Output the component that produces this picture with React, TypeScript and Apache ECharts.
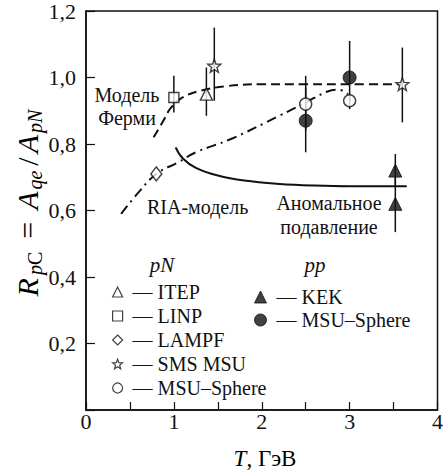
import React, { useEffect, useRef } from "react";
import * as echarts from "echarts";

// [T, R, errLow, errHigh]
const itep = [[1.37, 0.95, 0.885, 1.03]];
const linp = [[1.0, 0.94, 0.895, 1.005]];
const lampf = [[0.8, 0.71]];
const smsMsu = [
  [1.46, 1.035, 0.93, 1.15],
  [3.6, 0.98, 0.865, 1.09],
];
const msuSpherePN = [
  [2.5, 0.92, 0.84, 1.005],
  [3.0, 0.93, 0.905, 0.95],
];
const kek = [
  [3.52, 0.72, 0.675, 0.77],
  [3.52, 0.62, 0.535, 0.7],
];
const msuSpherePP = [
  [2.5, 0.87, 0.775, 0.97],
  [3.0, 1.0, 0.93, 1.11],
];

// model curves [T, R]
const fermiModel = [
  [0.77, 0.82], [0.88, 0.87], [0.97, 0.91], [1.1, 0.94], [1.3, 0.96],
  [1.6, 0.974], [2.0, 0.98], [2.5, 0.98], [3.0, 0.98], [3.6, 0.98],
];
const riaModel = [
  [0.4, 0.59], [0.6, 0.655], [0.8, 0.71], [1.05, 0.745], [1.25, 0.775],
  [1.65, 0.815], [2.2, 0.885], [2.5, 0.925], [2.75, 0.958], [2.88, 0.963], [2.98, 0.95],
];
const anomalous = [
  [1.02, 0.79], [1.1, 0.757], [1.25, 0.728], [1.5, 0.705], [1.8, 0.69],
  [2.2, 0.68], [2.6, 0.675], [3.0, 0.673], [3.65, 0.673],
];

const xTicks = [0, 1, 2, 3, 4];
const yTickLabels = ["0,2", "0,4", "0,6", "0,8", "1,0", "1,2"];

const legendNames: Record<string, string> = {
  ITEP: "ITEP",
  LINP: "LINP",
  LAMPF: "LAMPF",
  "SMS MSU": "SMS MSU",
  "MSU–Sphere pN": "MSU–Sphere",
  KEK: "KEK",
  "MSU–Sphere pp": "MSU–Sphere",
};

const FONT = "Liberation Serif";
const INK = "#111";
const STAR =
  "path://M12,1 L14.8,8.6 L23,8.9 L16.6,14 L18.8,22 L12,17.4 L5.2,22 L7.4,14 L1,8.9 L9.2,8.6 Z";

export default function App() {
  const ref = useRef<HTMLDivElement>(null);
  useEffect(() => {
    if (!ref.current) return;
    const chart = echarts.init(ref.current, undefined, { renderer: "svg" });

    const open = { color: "#fff", borderColor: INK, borderWidth: 1.4 };
    const filled = { color: INK, borderColor: INK, borderWidth: 1 };
    const pts = (a: number[][]) => a.map((d) => [d[0], d[1]]);
    const errs = [itep, linp, smsMsu, msuSpherePN, kek, msuSpherePP]
      .flat()
      .filter((d) => d.length === 4)
      .map((d) => [d[0], d[2], d[3]]);

    const main = (pad: number[], italic = true) => ({
      fontFamily: FONT,
      fontSize: 30,
      fontStyle: italic ? "italic" : "normal",
      color: INK,
      lineHeight: 36,
      padding: pad,
    });
    const sub = (pad: number[], italic = true) => ({
      fontFamily: FONT,
      fontSize: 20,
      fontStyle: italic ? "italic" : "normal",
      color: INK,
      lineHeight: 20,
      verticalAlign: "bottom",
      padding: pad,
    });

    chart.setOption({
      animation: false,
      textStyle: { fontFamily: FONT },
      grid: {
        left: 86,
        right: 3,
        top: 10,
        bottom: 61,
        show: true,
        borderColor: INK,
        borderWidth: 1.5,
      },
      xAxis: {
        type: "value",
        min: 0,
        max: 4,
        interval: 0.5,
        axisLine: { lineStyle: { color: INK, width: 1.5 } },
        axisTick: { inside: true, length: 8, lineStyle: { color: INK, width: 1.2 } },
        splitLine: { show: false },
        axisLabel: {
          margin: 0,
          fontFamily: FONT,
          fontSize: 22,
          color: INK,
          formatter: (v: number) => {
            const r = Math.round(v);
            return Math.abs(v - r) < 1e-6 && xTicks.includes(r) ? String(r) : "";
          },
        },
      },
      yAxis: {
        type: "value",
        min: 0,
        max: 1.2,
        interval: 0.2,
        axisLine: { lineStyle: { color: INK, width: 1.5 } },
        axisTick: { inside: true, length: 9, lineStyle: { color: INK, width: 1.2 } },
        splitLine: { show: false },
        axisLabel: {
          margin: 10,
          fontFamily: FONT,
          fontSize: 22,
          color: INK,
          formatter: (v: number) => {
            const i = Math.round(v / 0.2) - 1;
            return i >= 0 ? yTickLabels[i] : "";
          },
        },
      },
      legend: [
        {
          orient: "vertical",
          left: 112,
          top: 282,
          padding: 0,
          itemGap: 4,
          itemWidth: 10,
          itemHeight: 10,
          selectedMode: false,
          itemStyle: { borderWidth: 1.2 },
          data: ["ITEP", "LINP", "LAMPF", "SMS MSU", "MSU–Sphere pN"],
          formatter: (n: string) => " — " + legendNames[n],
          textStyle: { fontFamily: FONT, fontSize: 20, color: INK, lineHeight: 20 },
        },
        {
          orient: "vertical",
          left: 254,
          top: 287,
          padding: 0,
          itemGap: 3,
          itemWidth: 12,
          itemHeight: 12,
          selectedMode: false,
          itemStyle: { borderWidth: 1 },
          data: ["KEK", "MSU–Sphere pp"],
          formatter: (n: string) => " — " + legendNames[n],
          textStyle: { fontFamily: FONT, fontSize: 20, color: INK, lineHeight: 20 },
        },
      ],
      graphic: [
        {
          type: "text",
          x: 127,
          y: 106,
          style: {
            text: "Модель\nФерми",
            align: "center",
            verticalAlign: "middle",
            fontFamily: FONT,
            fontSize: 20,
            lineHeight: 23,
            fill: INK,
          },
        },
        {
          type: "text",
          x: 147,
          y: 207,
          style: {
            text: "RIA-модель",
            align: "left",
            verticalAlign: "middle",
            fontFamily: FONT,
            fontSize: 20,
            fill: INK,
          },
        },
        {
          type: "text",
          x: 329,
          y: 215,
          style: {
            text: "Аномальное\nподавление",
            align: "center",
            verticalAlign: "middle",
            fontFamily: FONT,
            fontSize: 20,
            lineHeight: 24,
            fill: INK,
          },
        },
        {
          type: "text",
          x: 162,
          y: 265,
          style: {
            text: "pN",
            align: "center",
            verticalAlign: "middle",
            fontFamily: FONT,
            fontStyle: "italic",
            fontSize: 21,
            fill: INK,
          },
        },
        {
          type: "text",
          x: 315,
          y: 265,
          style: {
            text: "pp",
            align: "center",
            verticalAlign: "middle",
            fontFamily: FONT,
            fontStyle: "italic",
            fontSize: 21,
            fill: INK,
          },
        },
        {
          type: "text",
          x: 265,
          y: 458,
          style: {
            text: "{i|T}{n|, ГэВ}",
            align: "center",
            verticalAlign: "middle",
            rich: {
              i: { fontFamily: FONT, fontStyle: "italic", fontSize: 23, color: INK },
              n: { fontFamily: FONT, fontSize: 23, color: INK },
            },
          },
        },
        {
          type: "text",
          x: 27,
          y: 204,
          rotation: Math.PI / 2,
          style: {
            text: "{r|R}{s1|p}{s2|C}{eq|=}{a|A}{s3|qe}{sl|/}{a|A}{s4|pN}",
            align: "center",
            verticalAlign: "middle",
            rich: {
              r: main([0, 3, 0, 2]),
              a: main([0, 2, 0, 1]),
              eq: main([0, 11, 0, 11], false),
              sl: main([0, 3, 0, 3], false),
              s1: sub([0, 0, 0, 0]),
              s2: sub([0, 2, 0, 0], false),
              s3: sub([0, 2, 0, 0]),
              s4: sub([0, 0, 0, 0]),
            },
          },
        },
      ],
      series: [
        {
          name: "Fermi",
          type: "line",
          data: fermiModel,
          showSymbol: false,
          symbol: "none",
          smooth: 0.4,
          lineStyle: { color: INK, width: 2, type: [9, 5] },
          z: 1,
        },
        {
          name: "RIA",
          type: "line",
          data: riaModel,
          showSymbol: false,
          symbol: "none",
          smooth: 0.4,
          lineStyle: { color: INK, width: 2, type: [10, 5, 2, 5] },
          z: 1,
        },
        {
          name: "Anomalous",
          type: "line",
          data: anomalous,
          showSymbol: false,
          symbol: "none",
          smooth: 0.4,
          lineStyle: { color: INK, width: 2 },
          z: 1,
        },
        {
          name: "errors",
          type: "custom",
          data: errs,
          encode: { x: 0, y: [1, 2] },
          z: 2,
          renderItem: (params: any, api: any) => {
            const a = api.coord([api.value(0), api.value(1)]);
            const b = api.coord([api.value(0), api.value(2)]);
            return {
              type: "line",
              shape: { x1: a[0], y1: a[1], x2: b[0], y2: b[1] },
              style: { stroke: INK, lineWidth: 1.5 },
            };
          },
        },
        { name: "ITEP", type: "scatter", data: pts(itep), symbol: "triangle", symbolSize: 12, itemStyle: open, z: 3 },
        { name: "LINP", type: "scatter", data: pts(linp), symbol: "rect", symbolSize: 10, itemStyle: open, z: 3 },
        { name: "LAMPF", type: "scatter", data: pts(lampf), symbol: "diamond", symbolSize: [11, 14], itemStyle: open, z: 3 },
        { name: "SMS MSU", type: "scatter", data: pts(smsMsu), symbol: STAR, symbolSize: 13, itemStyle: open, z: 3 },
        { name: "MSU–Sphere pN", type: "scatter", data: pts(msuSpherePN), symbol: "circle", symbolSize: 12, itemStyle: open, z: 3 },
        { name: "KEK", type: "scatter", data: pts(kek), symbol: "triangle", symbolSize: 13, itemStyle: filled, z: 3 },
        { name: "MSU–Sphere pp", type: "scatter", data: pts(msuSpherePP), symbol: "circle", symbolSize: 13, itemStyle: filled, z: 3 },
      ],
    });
    return () => chart.dispose();
  }, []);
  return (
    <div
      ref={ref}
      style={{ position: "fixed", left: 0, top: 0, width: 446, height: 471, background: "#fff" }}
    />
  );
}
